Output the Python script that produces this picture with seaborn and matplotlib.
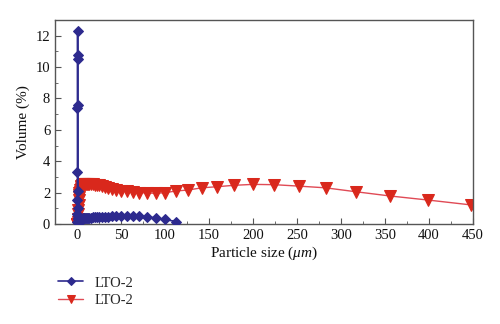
import matplotlib
matplotlib.use("Agg")
import matplotlib.pyplot as plt
import seaborn as sns
import pandas as pd
from matplotlib.ticker import MultipleLocator

# Particle size bins (um), geometric steps of the analyser
size_bins = [0.35, 0.40, 0.45, 0.50, 0.56, 0.63, 0.71, 0.80, 0.89, 1.00,
             1.12, 1.26, 1.42, 1.59, 1.78, 2.00, 2.24, 2.52, 2.83, 3.17,
             3.56, 3.99, 4.48, 5.02, 5.64, 6.32, 7.10, 7.96, 8.93, 10.02,
             11.25, 12.62, 14.16, 15.89, 17.83, 20.00, 22.44, 25.18, 28.25, 31.70,
             35.57, 39.91, 44.77, 50.24, 56.37, 63.25, 70.96, 79.62, 89.34, 100.24,
             112.47, 126.19, 141.59, 158.87, 178.25, 200.00, 224.40, 251.79, 282.51, 316.98,
             355.66, 399.05, 447.74]

# Volume fraction (%) of the fine sample, up to 112 um
blue_vol = [0.1, 0.6, 1.5, 3.3, 7.4, 10.5, 12.3, 10.8, 7.6, 2.1,
            1.0, 0.5, 0.35, 0.3, 0.3, 0.3, 0.3, 0.3, 0.3, 0.3,
            0.3, 0.3, 0.3, 0.32, 0.33, 0.34, 0.35, 0.36, 0.37, 0.38,
            0.38, 0.39, 0.4, 0.4, 0.41, 0.42, 0.43, 0.44, 0.45, 0.46,
            0.47, 0.48, 0.49, 0.5, 0.5, 0.5, 0.48, 0.45, 0.38, 0.28,
            0.15]

# Volume fraction (%) of the coarse sample
red_vol = [0.0, 0.0, 0.0, 0.0, 0.0, 0.0, 0.0, 0.0, 0.0, 0.0,
           0.1, 0.3, 0.6, 0.9, 1.2, 1.5, 1.7, 1.85, 1.95, 2.05,
           2.15, 2.25, 2.35, 2.42, 2.48, 2.52, 2.55, 2.56, 2.56, 2.56,
           2.55, 2.55, 2.54, 2.53, 2.52, 2.5, 2.48, 2.45, 2.4, 2.35,
           2.3, 2.25, 2.18, 2.12, 2.07, 2.03, 2.0, 1.97, 1.95, 1.99,
           2.1, 2.16, 2.3, 2.37, 2.46, 2.52, 2.5, 2.41, 2.3, 2.05,
           1.78, 1.52, 1.21]

series_label = "LTO-2"
blue = "#2d2a8e"
red = "#d9281c"

sns.set_theme(style="ticks")
plt.rcParams["font.family"] = ["Liberation Serif", "DejaVu Serif"]
plt.rcParams["mathtext.fontset"] = "custom"
plt.rcParams["mathtext.it"] = "Liberation Serif:italic"
plt.rcParams["mathtext.rm"] = "Liberation Serif"

df_blue = pd.DataFrame({"size": size_bins[:len(blue_vol)], "vol": blue_vol})
df_red = pd.DataFrame({"size": size_bins, "vol": red_vol})

fig = plt.figure(figsize=(5.0, 3.24), dpi=100)
ax = fig.add_axes([0.11, 0.309, 0.836, 0.629])

sns.lineplot(data=df_red, x="size", y="vol", ax=ax, estimator=None,
             color="#e04a55", lw=1.0, marker="v", markersize=8,
             markerfacecolor=red, markeredgecolor=red, label=series_label,
             zorder=2)
sns.lineplot(data=df_blue, x="size", y="vol", ax=ax, estimator=None,
             color=blue, lw=1.2, marker="D", markersize=5.5,
             markerfacecolor=blue, markeredgecolor=blue, label=series_label,
             zorder=3)

ax.set_xlim(-25, 450)
ax.set_ylim(0, 13)
ax.xaxis.set_major_locator(MultipleLocator(50))
ax.xaxis.set_minor_locator(MultipleLocator(25))
ax.yaxis.set_major_locator(MultipleLocator(2))
ax.yaxis.set_minor_locator(MultipleLocator(1))
ax.tick_params(which="both", direction="in", labelsize=10.5, colors="#111111",
               top=False, right=False)
ax.tick_params(which="major", length=4, width=0.8, color="#555555")
ax.tick_params(which="minor", length=2, width=0.6, color="#555555")
for s in ax.spines.values():
    s.set_color("#555555")
    s.set_linewidth(1.0)

ax.set_xlabel(r"Particle size ($\mu m$)", fontsize=11, color="#111111", labelpad=2)
ax.set_ylabel("Volume (%)", fontsize=11, color="#111111", labelpad=4)

handles, labels = ax.get_legend_handles_labels()
ax.get_legend().remove()
fig.legend(handles[::-1], labels[::-1], loc="upper left",
           bbox_to_anchor=(0.105, 0.165), frameon=False, fontsize=10.5,
           handlelength=1.7, handletextpad=0.8, markerscale=0.8,
           labelspacing=0.3, borderaxespad=0)

fig.savefig("out.png", dpi=100)
